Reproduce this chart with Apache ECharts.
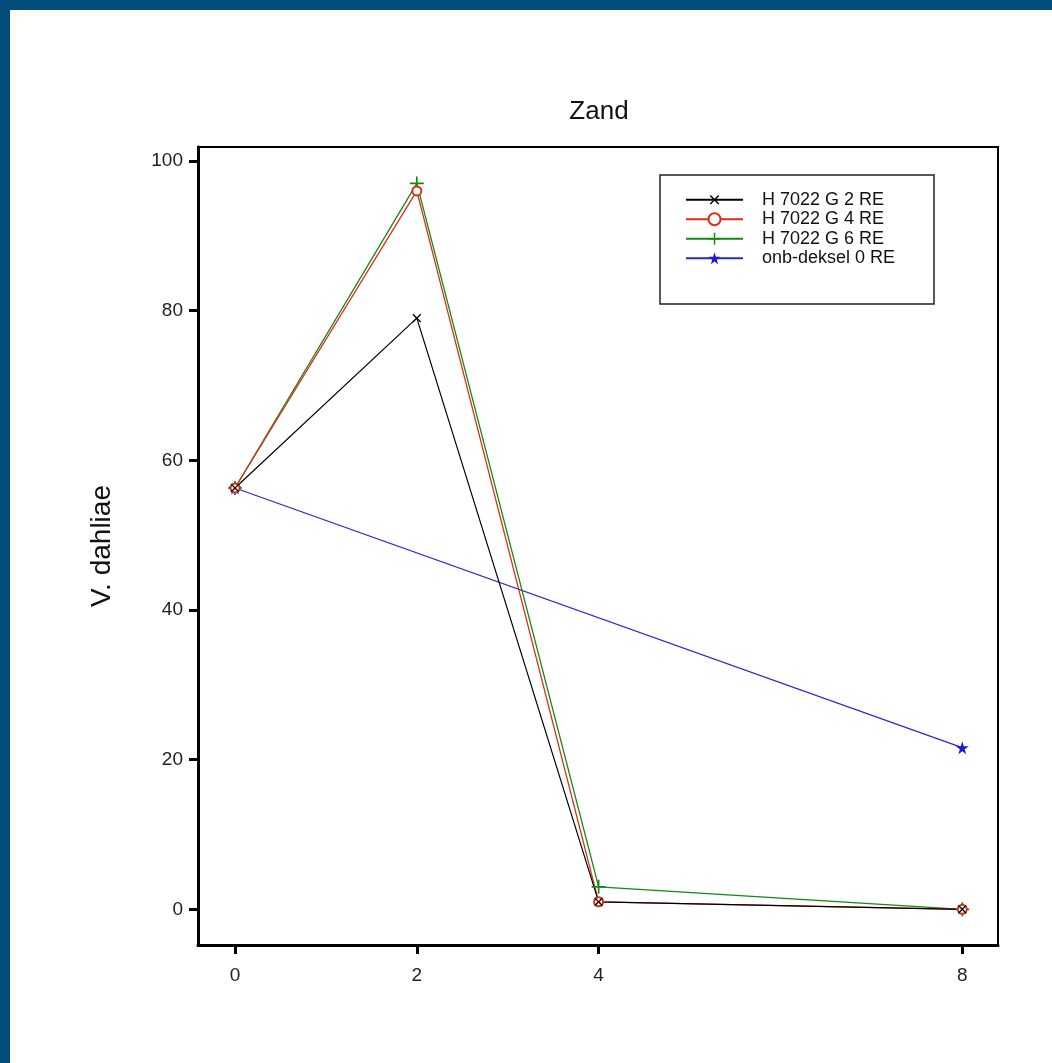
<!DOCTYPE html>
<html>
<head>
<meta charset="utf-8">
<script src="https://cdn.jsdelivr.net/npm/echarts@6/dist/echarts.min.js"></script>
<style>
html,body{margin:0;padding:0;background:#fff;}
#chart{width:1052px;height:1063px;}
</style>
</head>
<body>
<div id="chart"></div>
<script>
// ---- data ----
const xValues = [0, 2, 4, 8];
const g2Values = [56.3, 79, 1, 0];
const g4Values = [56.3, 96, 1, 0];
const g6Values = [56.3, 97, 3, 0];
const onbX = [0, 8];
const onbValues = [56.3, 21.6];
const seriesNames = ['H 7022 G 2 RE', 'H 7022 G 4 RE', 'H 7022 G 6 RE', 'onb-deksel 0 RE'];
const xTicks = [0, 2, 4, 8];
const yTicks = [0, 20, 40, 60, 80, 100];

const pairs = (xs, ys) => xs.map((x, i) => [x, ys[i]]);

const FONT = '"Liberation Sans", Arial, sans-serif';
const plusPath = 'path://M4.4,0H5.6V4.4H10V5.6H5.6V10H4.4V5.6H0V4.4H4.4Z';
const starPath = 'path://M50,0L61,35H98L68,57L79,91L50,70L21,91L32,57L2,35H39Z';

const chart = echarts.init(document.getElementById('chart'), null, {renderer: 'canvas'});
chart.setOption({
  animation: false,
  backgroundColor: '#fff',
  graphic: [
    {type: 'rect', shape: {x: 0, y: 0, width: 1052, height: 10}, style: {fill: '#034d7a'}, z: 100},
    {type: 'rect', shape: {x: 0, y: 0, width: 10, height: 1063}, style: {fill: '#034d7a'}, z: 100},
    {type: 'rect', shape: {x: 660, y: 175, width: 274, height: 129}, style: {fill: 'none', stroke: '#222', lineWidth: 1.5}, z: 5},
    {type: 'text', x: 599, y: 112, style: {text: 'Zand', fontFamily: FONT, fontSize: 26, fill: '#111', align: 'center', verticalAlign: 'middle'}, z: 10}
  ],
  grid: {left: 198, right: 54, top: 147, bottom: 118, show: true, borderColor: '#000', borderWidth: 2, backgroundColor: 'transparent'},
  xAxis: {
    type: 'value', min: -0.407, max: 8.393,
    axisLine: {show: true, onZero: false, lineStyle: {color: '#000', width: 3}},
    axisTick: {show: true, length: 9, inside: false, customValues: xTicks, lineStyle: {color: '#000', width: 3}},
    axisLabel: {customValues: xTicks, margin: 21, fontFamily: FONT, fontSize: 19, color: '#222'},
    splitLine: {show: false}
  },
  yAxis: {
    type: 'value', min: -4.77, max: 101.87,
    name: 'V. dahliae', nameLocation: 'middle', nameGap: 82, nameRotate: 90,
    nameTextStyle: {fontFamily: FONT, fontSize: 28, color: '#111'},
    axisLine: {show: true, onZero: false, lineStyle: {color: '#000', width: 3}},
    axisTick: {show: true, length: 9, inside: false, customValues: yTicks, lineStyle: {color: '#000', width: 3}},
    axisLabel: {customValues: yTicks, margin: 15, fontFamily: FONT, fontSize: 19, color: '#222'},
    splitLine: {show: false}
  },
  legend: {
    orient: 'vertical', left: 685, top: 190, padding: 0,
    itemWidth: 57, itemHeight: 15, itemGap: 0,
    textStyle: {fontFamily: FONT, fontSize: 18, color: '#111', lineHeight: 19.5, padding: [0, 0, 0, 14]},
    data: seriesNames
  },
  series: [
    {
      name: seriesNames[3], type: 'line', data: pairs(onbX, onbValues),
      symbol: starPath, symbolSize: 13,
      lineStyle: {color: '#2a2ac8', width: 1.3}, itemStyle: {color: '#1a1ad8'}
    },
    {
      name: seriesNames[2], type: 'line', data: pairs(xValues, g6Values),
      symbol: plusPath, symbolSize: 14,
      lineStyle: {color: '#108a10', width: 1.3}, itemStyle: {color: '#108a10'}
    },
    {
      name: seriesNames[1], type: 'line', data: pairs(xValues, g4Values),
      symbol: 'emptyCircle', symbolSize: 9,
      lineStyle: {color: '#e02a1a', width: 1.3}, itemStyle: {color: '#e02a1a', borderWidth: 1.3}
    },
    {
      name: seriesNames[0], type: 'line', data: pairs(xValues, g2Values),
      symbol: plusPath, symbolSize: 11, symbolRotate: 45,
      lineStyle: {color: '#000', width: 1.2}, itemStyle: {color: '#000'}
    }
  ]
});
</script>
</body>
</html>
